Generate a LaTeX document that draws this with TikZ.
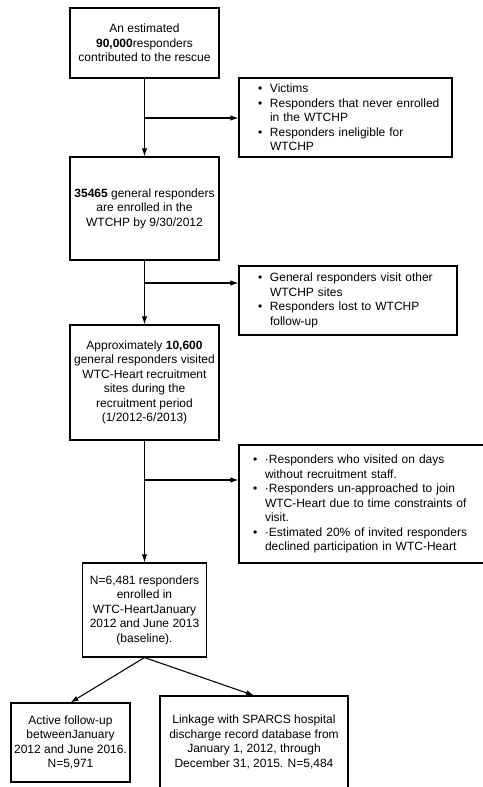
\documentclass[tikz,border=0pt]{standalone}
\usepackage{fontspec}
\setmainfont{Liberation Sans}
\usetikzlibrary{arrows.meta}
\newcommand\bul[1]{\hspace*{#1}\makebox[9pt][l]{\textbullet}}
\newcommand\ind[1]{\hspace*{\dimexpr#1+9pt\relax}}
\begin{document}
\begin{tikzpicture}[x=0.75pt,y=-0.75pt,
 box/.style={draw, line width=0.8pt, inner sep=0pt, align=center, font=\fontsize{9}{10.9}\selectfont},
 side/.style={draw, line width=0.8pt, inner sep=0pt, align=left, font=\fontsize{9}{10.9}\selectfont},
 arr/.style={line width=0.8pt, -{Latex[length=6pt,width=4pt]}}]
\useasboundingbox (0,0) rectangle (482,787);
\fill[white] (0,0) rectangle (482,787);
% main boxes
\node[box, minimum width=111.75pt, minimum height=52.5pt] (b1) at (144.5,43)
  {An estimated\\ \textbf{90,000}responders\\ contributed to the rescue};
\node[box, minimum width=111.75pt, minimum height=77.25pt] (b2) at (144.5,208.5)
  {\textbf{35465} general responders\\ are enrolled in the\\ WTCHP by 9/30/2012};
\node[box, minimum width=111.75pt, minimum height=86.25pt] (b3) at (144.5,382.5)
  {Approximately \textbf{10,600}\\ general responders visited\\ WTC-Heart recruitment\\ sites during the\\ recruitment period\\ (1/2012-6/2013)};
\node[box, minimum width=93pt, minimum height=70.5pt] (b4) at (144.5,610)
  {N=6,481 responders\\ enrolled in\\ WTC-HeartJanuary\\ 2012 and June 2013\\ (baseline).};
\node[box, minimum width=89.25pt, minimum height=59.25pt] (lb) at (70.5,742.5)
  {Active follow-up\\ betweenJanuary\\ 2012 and June 2016.\\ N=5,971};
\node[box, minimum width=141pt, minimum height=69pt] (rb) at (254,742)
  {Linkage with SPARCS hospital\\ discharge record database from\\ January 1, 2012, through\\ December 31, 2015. N=5,484};
% side boxes
\node[side, text width=159.75pt, minimum height=59.25pt] (s1) at (345.5,117.5)
  {\bul{14.25pt}Victims\\ \bul{14.25pt}Responders that never enrolled\\ \ind{14.25pt}in the WTCHP\\ \bul{14.25pt}Responders ineligible for\\ \ind{14.25pt}WTCHP};
\node[side, text width=163.5pt, minimum height=51.75pt] (s2) at (348,300.5)
  {\bul{14.25pt}General responders visit other\\ \ind{14.25pt}WTCHP sites\\ \bul{14.25pt}Responders lost to WTCHP\\ \ind{14.25pt}follow-up};
\node[side, text width=188.25pt, minimum height=88.5pt] (s3) at (364.5,504)
  {\bul{10.5pt}·Responders who visited on days\\ \ind{10.5pt}without recruitment staff.\\ \bul{10.5pt}·Responders un-approached to join\\ \ind{10.5pt}WTC-Heart due to time constraints of\\ \ind{10.5pt}visit.\\ \bul{10.5pt}·Estimated 20\% of invited responders\\ \ind{10.5pt}declined participation in WTC-Heart};
% connectors
\draw[arr] (b1) -- (b2);
\draw[arr] (b2) -- (b3);
\draw[arr] (b3.south) -- (b4.north);
\coordinate (j1) at (144.5,118);
\coordinate (j2) at (144.5,283);
\coordinate (j3) at (144.5,480);
\draw[arr] (j1) -- (j1 -| s1.west);
\draw[arr] (j2) -- (j2 -| s2.west);
\draw[arr] (j3) -- (j3 -| s3.west);
\draw[arr] (b4.south) -- (lb.north);
\draw[arr] (b4.south) -- (rb.north);
\end{tikzpicture}
\end{document}
